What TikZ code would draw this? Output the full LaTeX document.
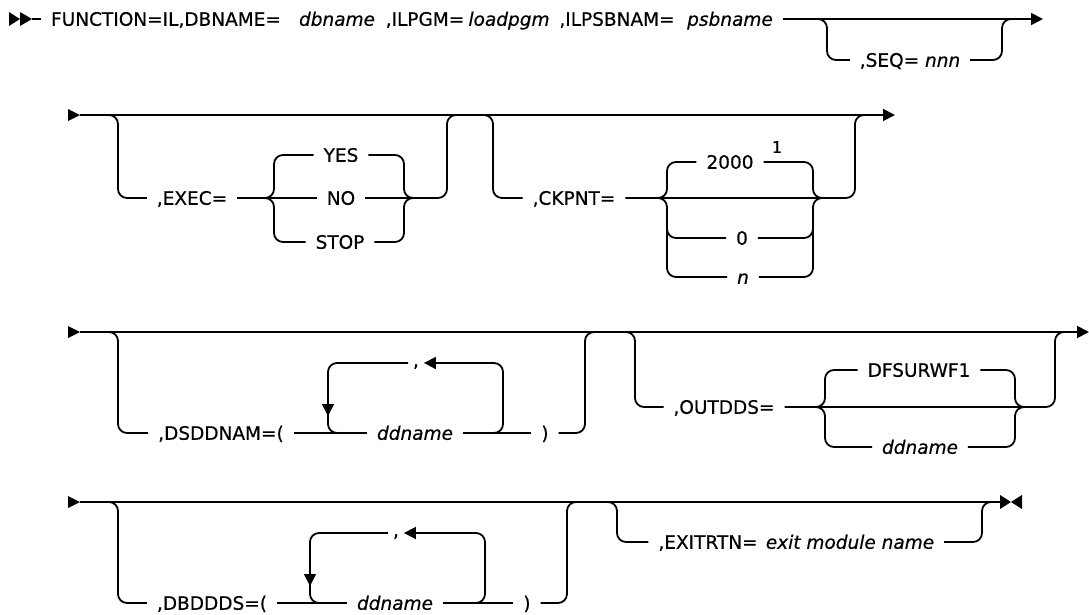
\documentclass[tikz,border=0pt]{standalone}
\usepackage{fontspec}
\setmainfont{DejaVu Sans}[FakeBold=0.5]
\usetikzlibrary{arrows.meta}
\begin{document}
\begin{tikzpicture}[x=1pt,y=-1pt,
  rr/.style={line width=1.8pt, rounded corners=9pt},
  fwd/.style={-{Triangle[length=12pt,width=12pt]}},
  txt/.style={inner sep=0pt, outer xsep=10pt, outer ysep=0pt, text height=13.5pt, text depth=0pt, font=\fontsize{18.5}{22}\selectfont},
  itx/.style={txt, font=\fontsize{18.5}{22}\selectfont\itshape},
  commanode/.style={txt, outer xsep=5pt}]
\useasboundingbox (0,0) rectangle (1089,614);
% ---------- row 1 ----------
\fill (9,12) -- (20,19) -- (9,26) -- cycle;
\fill (20,12) -- (32,19) -- (20,26) -- cycle;
\coordinate (s1) at (32,19);
\coordinate (e1) at (1043,19);
\node[txt] (fn) at (166,19) {FUNCTION=IL,DBNAME=};
\node[itx] (dbn) at (337,19) {dbname};
\node[txt] (ilpgm) at (425,19) {,ILPGM=};
\node[itx] (ldp) at (509,19) {loadpgm};
\node[txt] (ilpsb) at (617,19) {,ILPSBNAM=};
\node[itx] (psb) at (730,19) {psbname};
\node[txt] (seq) at (910,60) {,SEQ= \textit{nnn}};
\draw[rr] (s1) -- (fn.west);
\draw[rr,fwd] (psb.east) -- (e1);
\draw[rr] (817,19) -- (827,19) -- (827,60) -- (seq.west);
\draw[rr] (seq.east) -- (1002,60) -- (1002,19) -- (1012,19);
% ---------- row 2 ----------
\fill (68,109) -- (80,115) -- (68,121) -- cycle;
\coordinate (s2) at (80,115);
\coordinate (e2) at (895,115);
\draw[rr,fwd] (s2) -- (e2);
\node[txt] (exec) at (192,198) {,EXEC=};
\node[txt] (yes) at (341,155) {YES};
\node[txt] (no) at (341,198) {NO};
\node[txt] (stop) at (340,242) {STOP};
\draw[rr] (108,115) -- (118,115) -- (118,198) -- (exec.west);
\draw[rr] (exec.east) -- (no.west);
\draw[rr] (no.east) -- (447,198) -- (447,115) -- (457,115);
\draw[rr] (264,198) -- (274,198) -- (274,155) -- (yes.west);
\draw[rr] (264,198) -- (274,198) -- (274,242) -- (stop.west);
\draw[rr] (yes.east) -- (404,155) -- (404,198) -- (414,198);
\draw[rr] (stop.east) -- (404,242) -- (404,198) -- (414,198);
\node[txt] (ck) at (574,198) {,CKPNT=};
\node[txt] (c2000) at (730,162) {2000};
\node[inner sep=0pt, font=\fontsize{16}{18}\selectfont] (fn1) at (777,147) {1};
\node[txt] (c0) at (742,238) {0};
\node[itx] (cn) at (743,277) {n};
\draw[rr] (483,115) -- (493,115) -- (493,198) -- (ck.west);
\draw[rr] (ck.east) -- (855,198) -- (855,115) -- (865,115);
\draw[rr] (657,198) -- (667,198) -- (667,162) -- (c2000.west);
\draw[rr] (657,198) -- (667,198) -- (667,238) -- (c0.west);
\draw[rr] (667,228) -- (667,277) -- (cn.west);
\draw[rr] (c2000.east) -- (813,162) -- (813,198) -- (823,198);
\draw[rr] (c0.east) -- (813,238) -- (813,198) -- (823,198);
\draw[rr] (cn.east) -- (813,277) -- (813,228);
% ---------- row 3 ----------
\fill (68,326) -- (80,332) -- (68,338) -- cycle;
\coordinate (s3) at (80,332);
\coordinate (e3) at (1089,332);
\draw[rr,fwd] (s3) -- (e3);
\node[txt] (dsd) at (221,433) {,DSDDNAM=(};
\node[itx] (ddA) at (415,433) {ddname};
\node[txt] (rpA) at (545,433) {)};
\node[commanode] (cmA) at (416,363) {\raisebox{3pt}{,}};
\draw[rr] (108,332) -- (118,332) -- (118,433) -- (dsd.west);
\draw[rr] (dsd.east) -- (ddA.west);
\draw[rr] (ddA.east) -- (rpA.west);
\draw[rr] (rpA.east) -- (585,433) -- (585,332) -- (595,332);
\draw[rr,fwd] (493,433) -- (503,433) -- (503,363) -- (cmA.east);
\draw[rr,fwd] (cmA.west) -- (328,363) -- (328,416);
\draw[rr] (328,410) -- (328,433) -- (340,433);
\node[txt] (od) at (724,407) {,OUTDDS=};
\node[txt] (dfs) at (919,370) {DFSURWF1};
\node[itx] (ddB) at (920,447) {ddname};
\draw[rr] (625,332) -- (635,332) -- (635,407) -- (od.west);
\draw[rr] (od.east) -- (1055,407) -- (1055,332) -- (1065,332);
\draw[rr] (815,407) -- (825,407) -- (825,370) -- (dfs.west);
\draw[rr] (815,407) -- (825,407) -- (825,447) -- (ddB.west);
\draw[rr] (dfs.east) -- (1015,370) -- (1015,407) -- (1025,407);
\draw[rr] (ddB.east) -- (1015,447) -- (1015,407) -- (1025,407);
% ---------- row 4 ----------
\fill (68,496) -- (80,502) -- (68,508) -- cycle;
\coordinate (s4) at (80,502);
\coordinate (e4) at (1000,502);
\draw[rr] (s4) -- (e4);
\fill (1000,495) -- (1011,502) -- (1000,509) -- cycle;
\fill (1022,495) -- (1011,502) -- (1022,509) -- cycle;
\node[txt] (dbd) at (212,603) {,DBDDDS=(};
\node[itx] (ddC) at (395,603) {ddname};
\node[txt] (rpB) at (527,603) {)};
\node[commanode] (cmB) at (396,533) {\raisebox{3pt}{,}};
\draw[rr] (108,502) -- (118,502) -- (118,603) -- (dbd.west);
\draw[rr] (dbd.east) -- (ddC.west);
\draw[rr] (ddC.east) -- (rpB.west);
\draw[rr] (rpB.east) -- (567,603) -- (567,502) -- (577,502);
\draw[rr,fwd] (475,603) -- (485,603) -- (485,533) -- (cmB.east);
\draw[rr,fwd] (cmB.west) -- (310,533) -- (310,586);
\draw[rr] (310,580) -- (310,603) -- (322,603);
\node[txt] (ex) at (708,542) {,EXITRTN=};
\node[itx] (exn) at (850,542) {exit module name};
\draw[rr] (607,502) -- (617,502) -- (617,542) -- (ex.west);
\draw[rr] (exn.east) -- (982,542) -- (982,502) -- (992,502);
\end{tikzpicture}
\end{document}
